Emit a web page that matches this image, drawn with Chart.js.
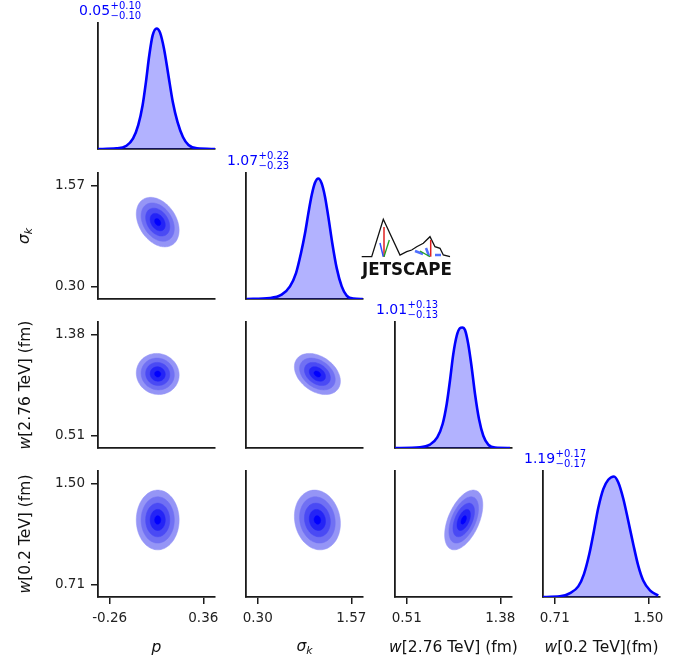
<!DOCTYPE html>
<html>
<head>
<meta charset="utf-8">
<script src="https://cdn.jsdelivr.net/npm/chart.js@4.4.0/dist/chart.umd.min.js"></script>
<style>
  body { margin: 0; background: #fff; }
  #fig { position: relative; width: 689px; height: 659px; overflow: hidden; font-family: "DejaVu Sans", sans-serif; }
  #fig canvas { position: absolute; }
  .lab { position: absolute; font-size: 15.5px; color: #111; white-space: nowrap; transform: translate(-50%, -50%); }
  .lab.rot { transform: translate(-50%, -50%) rotate(-90deg); }
  .ttl { position: absolute; color: #0000ff; white-space: nowrap; line-height: 1; }
  i { font-style: italic; }
  sub { font-size: 70%; vertical-align: -0.25em; }
</style>
</head>
<body>
<div id="fig"></div>
<script>
// parameter names, tick values and 1D summaries
const tickLo = [-0.26, 0.30, 0.51, 0.71];
const tickHi = [0.36, 1.57, 1.38, 1.50];
const medians = ["0.05", "1.07", "1.01", "1.19"];
const errUp = ["+0.10", "+0.22", "+0.13", "+0.17"];
const errDown = ["\u22120.10", "\u22120.23", "\u22120.13", "\u22120.17"];

// marginal densities (diagonal), normalised to peak = 1
const pDensX = [-0.338, -0.215, -0.149, -0.105, -0.071, -0.042, -0.02, 0.002, 0.024, 0.051, 0.073, 0.1, 0.129, 0.158, 0.189, 0.225, 0.262, 0.318, 0.438];
const pDensY = [0, 0.005, 0.027, 0.088, 0.198, 0.363, 0.555, 0.775, 0.94, 1.0, 0.967, 0.83, 0.61, 0.39, 0.225, 0.10, 0.033, 0.005, 0];
const skDensX = [0.15, 0.467, 0.625, 0.738, 0.82, 0.887, 0.942, 0.987, 1.033, 1.077, 1.122, 1.168, 1.213, 1.258, 1.312, 1.372, 1.44, 1.507, 1.597, 1.725];
const skDensY = [0, 0.008, 0.036, 0.105, 0.215, 0.38, 0.545, 0.71, 0.862, 0.964, 1.0, 0.959, 0.849, 0.683, 0.463, 0.256, 0.105, 0.028, 0.003, 0];
const w276DensX = [0.40, 0.633, 0.726, 0.794, 0.844, 0.882, 0.912, 0.943, 0.975, 1.005, 1.027, 1.052, 1.082, 1.114, 1.145, 1.182, 1.222, 1.268, 1.331, 1.47];
const w276DensY = [0, 0.006, 0.028, 0.088, 0.199, 0.365, 0.558, 0.779, 0.931, 0.994, 1.0, 0.978, 0.862, 0.668, 0.448, 0.24, 0.102, 0.028, 0.003, 0];
const w02DensX = [0.608, 0.754, 0.839, 0.909, 0.957, 1.002, 1.041, 1.078, 1.12, 1.162, 1.21, 1.247, 1.289, 1.331, 1.373, 1.415, 1.457, 1.514, 1.584];
const w02DensY = [0, 0.005, 0.033, 0.088, 0.19, 0.356, 0.548, 0.74, 0.895, 0.972, 1.0, 0.95, 0.815, 0.63, 0.438, 0.26, 0.137, 0.055, 0.011];

// 2D posterior summaries for the contour panels
const centers = [0.058, 1.11, 1.04, 1.215];
const spreads = [0.10, 0.22, 0.125, 0.165];
const corrRows = [1, 2, 2, 3, 3, 3];
const corrCols = [0, 0, 1, 0, 1, 2];
const corrValues = [-0.33, -0.05, -0.35, 0.0, -0.12, 0.5];
const contourLevels = [0.2, 0.5, 0.8, 1.1, 1.42];   // inner -> outer, in sigmas
const contourColors = ["#0000ff", "#2424f6", "#4a4af4", "#7070f3", "#9595f6"];

const densX = [pDensX, skDensX, w276DensX, w02DensX];
const densY = [pDensY, skDensY, w276DensY, w02DensY];

// layout of the grid (pixels)
const colLeft = [98, 246, 395, 543];
const rowTop = [23, 173, 322, 471];
const panelW = 117, panelH = 126;
const padL = 60, padT = 30, padR = 15, padB = 40;
const ink = "#1a1a1a";

const fig = document.getElementById("fig");

function range(i) {
  const d = (tickHi[i] - tickLo[i]) / 8;
  return [tickLo[i] - d, tickHi[i] + d];
}

function axis(i, showTicks) {
  const [mn, mx] = i === null ? [0, 1.045] : range(i);
  return {
    type: "linear", min: mn, max: mx,
    border: { display: true, color: ink, width: 1.8 },
    grid: { display: true, drawOnChartArea: false, drawTicks: showTicks, tickLength: 7, color: ink, lineWidth: 1.5 },
    ticks: { display: showTicks, padding: 6, color: "#222", font: { family: "DejaVu Sans", size: 13.5 },
      maxRotation: 0, autoSkip: false, callback: (v) => v.toFixed(2) },
    afterBuildTicks: (s) => { if (i !== null) s.ticks = [{ value: tickLo[i] }, { value: tickHi[i] }]; },
    afterFit: (s) => {
      if (s.isHorizontal()) s.height = padB; else s.width = padL;
      s.paddingLeft = 0; s.paddingRight = 0; s.paddingTop = 0; s.paddingBottom = 0;
    }
  };
}

function ellipse(r, c, k) {
  let rho = 0;
  corrRows.forEach((rr, j) => { if (rr === r && corrCols[j] === c) rho = corrValues[j]; });
  const pts = [];
  for (let t = 0; t <= 72; t++) {
    const a = (t / 72) * 2 * Math.PI;
    pts.push({
      x: centers[c] + k * spreads[c] * Math.cos(a),
      y: centers[r] + k * spreads[r] * (rho * Math.cos(a) + Math.sqrt(1 - rho * rho) * Math.sin(a))
    });
  }
  return pts;
}

function makePanel(r, c) {
  const cv = document.createElement("canvas");
  const w = panelW + padL + padR, h = panelH + padT + padB;
  cv.width = w; cv.height = h;
  cv.style.left = (colLeft[c] - padL) + "px";
  cv.style.top = (rowTop[r] - padT) + "px";
  cv.style.width = w + "px"; cv.style.height = h + "px";
  fig.appendChild(cv);

  let datasets;
  if (r === c) {
    datasets = [{
      data: densX[c].map((x, j) => ({ x: x, y: densY[c][j] })),
      showLine: true, fill: "origin", backgroundColor: "rgba(0,0,255,0.3)",
      borderColor: "#0000ff", borderWidth: 2.6, pointRadius: 0, cubicInterpolationMode: "monotone"
    }];
  } else {
    datasets = contourLevels.map((k, j) => ({
      data: ellipse(r, c, k), showLine: true, fill: "shape",
      backgroundColor: contourColors[j], borderColor: contourColors[j], borderWidth: 0.5,
      pointRadius: 0, tension: 0.3
    }));
  }

  new Chart(cv, {
    type: "scatter",
    data: { datasets: datasets },
    options: {
      responsive: false, animation: false, devicePixelRatio: 1,
      layout: { padding: { left: 0, top: padT, right: padR, bottom: 0 } },
      plugins: { legend: { display: false }, tooltip: { enabled: false } },
      scales: {
        x: axis(c, r === 3),
        y: axis(r === c ? null : r, c === 0 && r !== 0)
      }
    }
  });
}

for (let r = 0; r < 4; r++) for (let c = 0; c <= r; c++) makePanel(r, c);

// titles over the diagonal panels
for (let i = 0; i < 4; i++) {
  const x = colLeft[i] - 19, y = rowTop[i];
  const m = document.createElement("div");
  m.className = "ttl"; m.style.fontSize = "14px";
  m.style.left = x + "px"; m.style.top = (y - 19.6) + "px";
  m.textContent = medians[i];
  fig.appendChild(m);
  const u = document.createElement("div");
  u.className = "ttl"; u.style.fontSize = "10px";
  u.style.left = (x + 31.5) + "px"; u.style.top = (y - 22.2) + "px";
  u.textContent = errUp[i];
  fig.appendChild(u);
  const d = document.createElement("div");
  d.className = "ttl"; d.style.fontSize = "10px";
  d.style.left = (x + 31.5) + "px"; d.style.top = (y - 12.3) + "px";
  d.textContent = errDown[i];
  fig.appendChild(d);
}

// axis labels
const xLabels = ["<i>p</i>", "<i>σ<sub>k</sub></i>", "<i>w</i>[2.76 TeV] (fm)", "<i>w</i>[0.2 TeV](fm)"];
const yLabels = [null, "<i>σ<sub>k</sub></i>", "<i>w</i>[2.76 TeV] (fm)", "<i>w</i>[0.2 TeV] (fm)"];
xLabels.forEach((t, i) => {
  const el = document.createElement("div");
  el.className = "lab"; el.innerHTML = t;
  el.style.left = (colLeft[i] + panelW / 2) + "px"; el.style.top = "647px";
  fig.appendChild(el);
});
yLabels.forEach((t, i) => {
  if (!t) return;
  const el = document.createElement("div");
  el.className = "lab rot"; el.innerHTML = t;
  el.style.left = "25px"; el.style.top = (rowTop[i] + panelH / 2) + "px";
  fig.appendChild(el);
});

// JETSCAPE logo
fig.insertAdjacentHTML("beforeend", `
<svg style="position:absolute;left:355px;top:210px" width="105" height="72" viewBox="355 210 105 72">
  <polyline fill="none" stroke="#111" stroke-width="1.3"
    points="361.7,256.7 371.7,256.7 383.3,219.3 400,255 406.7,251.7 411.7,250 416.7,246.7 423.3,243.3 430,236.7 435,246.7 440,248.3 443.3,255 450,256.7"/>
  <line x1="384" y1="227" x2="384" y2="257" stroke="#e02020" stroke-width="1.5"/>
  <line x1="380" y1="243" x2="383.3" y2="256.7" stroke="#3050ff" stroke-width="1.5"/>
  <line x1="384" y1="256.7" x2="389.3" y2="240" stroke="#20a020" stroke-width="1.3"/>
  <line x1="430.7" y1="240" x2="430.7" y2="256.7" stroke="#e02020" stroke-width="1.5"/>
  <line x1="415" y1="251" x2="423" y2="254" stroke="#5070ff" stroke-width="2.5"/>
  <line x1="426" y1="248" x2="429" y2="256" stroke="#5070ff" stroke-width="2.5"/>
  <line x1="435" y1="255" x2="441" y2="255" stroke="#5070ff" stroke-width="2.5"/>
  <line x1="420" y1="251" x2="430" y2="256.7" stroke="#20a020" stroke-width="1.3"/>
  <text x="362" y="275" font-family="DejaVu Sans" font-weight="bold" font-size="17" textLength="90" lengthAdjust="spacingAndGlyphs" fill="#111">JETSCAPE</text>
</svg>`);
</script>
</body>
</html>
